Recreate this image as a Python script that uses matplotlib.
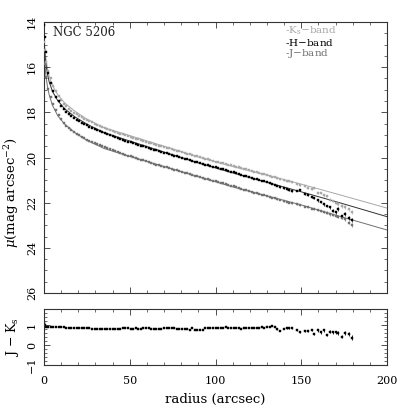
import numpy as np
import matplotlib
matplotlib.use("Agg")
import matplotlib.pyplot as plt
from matplotlib.ticker import MultipleLocator

plt.rcParams['font.family'] = ['DejaVu Serif']
plt.rcParams['mathtext.fontset'] = 'dejavuserif'

# ---------------- data ----------------
radius = [
    0.0, 0.5, 1.3, 2.6, 4.0, 5.5, 7.0, 8.5, 10.0, 11.5,
    13.0, 14.5, 16.0, 17.5, 19.0, 20.5, 22.0, 23.5, 25.0, 26.5,
    28.0, 29.5, 31.0, 32.5, 34.0, 35.5, 37.0, 38.5, 40.0, 41.5,
    43.0, 44.5, 46.0, 47.5, 49.0, 50.5, 52.0, 53.5, 55.0, 56.5,
    58.0, 59.5, 61.0, 62.5, 64.0, 65.5, 67.0, 68.5, 70.0, 71.5,
    73.0, 74.5, 76.0, 77.5, 79.0, 80.5, 82.0, 83.5, 85.0, 86.5,
    88.0, 89.5, 91.0, 92.5, 94.0, 95.5, 97.0, 98.5, 100.0, 101.5,
    103.0, 104.5, 106.0, 107.5, 109.0, 110.5, 112.0, 113.5, 115.0, 116.5,
    118.0, 119.5, 121.0, 122.5, 124.0, 125.5, 127.0, 128.5, 130.0, 131.5,
    133.0, 134.5,
    136.0, 137.8, 139.8, 141.5, 143.0, 144.6, 147.5, 149.5, 152.0, 154.0,
    156.0, 157.2, 159.8, 161.7, 163.0, 165.0, 167.0, 168.3, 170.0, 171.5,
    173.8, 175.7, 177.7, 179.6,
]

mu_H = [
    14.15, 14.65, 15.35, 16.25, 16.72, 17.06, 17.30, 17.52, 17.70, 17.86,
    17.98, 18.08, 18.17, 18.25, 18.32, 18.39, 18.46, 18.52, 18.58, 18.63,
    18.69, 18.74, 18.79, 18.84, 18.89, 18.93, 18.98, 19.02, 19.06, 19.10,
    19.14, 19.18, 19.22, 19.26, 19.30, 19.33, 19.37, 19.41, 19.44, 19.48,
    19.51, 19.55, 19.58, 19.62, 19.65, 19.69, 19.72, 19.75, 19.79, 19.82,
    19.85, 19.88, 19.92, 19.95, 19.98, 20.01, 20.05, 20.08, 20.11, 20.14,
    20.18, 20.21, 20.24, 20.27, 20.31, 20.34, 20.37, 20.40, 20.44, 20.47,
    20.50, 20.53, 20.57, 20.60, 20.63, 20.66, 20.70, 20.73, 20.76, 20.80,
    20.83, 20.86, 20.89, 20.93, 20.96, 21.00, 21.03, 21.06, 21.10, 21.14,
    21.18, 21.21,
    21.26, 21.31, 21.36, 21.40, 21.46, 21.50, 21.47, 21.44, 21.60, 21.68,
    21.74, 21.80, 21.90, 21.96, 22.08, 22.14, 22.20, 22.36, 22.42, 22.28,
    22.60, 22.50, 22.68, 22.76,
]

mu_Ks = [
    14.90, 15.25, 15.75, 16.15, 16.48, 16.82, 17.05, 17.27, 17.46, 17.62,
    17.74, 17.84, 17.93, 18.01, 18.08, 18.15, 18.22, 18.28, 18.34, 18.39,
    18.45, 18.50, 18.55, 18.60, 18.65, 18.69, 18.74, 18.78, 18.82, 18.86,
    18.90, 18.94, 18.98, 19.02, 19.06, 19.09, 19.13, 19.17, 19.20, 19.24,
    19.27, 19.31, 19.34, 19.38, 19.41, 19.45, 19.48, 19.51, 19.55, 19.58,
    19.60, 19.63, 19.67, 19.70, 19.73, 19.76, 19.80, 19.83, 19.86, 19.89,
    19.92, 19.95, 19.98, 20.01, 20.05, 20.08, 20.11, 20.14, 20.18, 20.21,
    20.23, 20.26, 20.30, 20.32, 20.35, 20.38, 20.42, 20.44, 20.47, 20.50,
    20.53, 20.56, 20.59, 20.62, 20.65, 20.69, 20.72, 20.75, 20.79, 20.82,
    20.85, 20.88,
    20.92, 20.96, 21.00, 21.04, 21.06, 21.10, 21.18, 21.22, 21.28, 21.34,
    21.38, 21.36, 21.56, 21.58, 21.68, 21.72, 21.86, 21.92, 22.02, 22.06,
    22.15, 22.20, 22.30, 22.42,
]

mu_J = [
    15.30, 15.85, 16.45, 16.95, 17.30, 17.62, 17.88, 18.10, 18.30, 18.46,
    18.60, 18.71, 18.80, 18.88, 18.95, 19.02, 19.09, 19.15, 19.21, 19.26,
    19.31, 19.36, 19.41, 19.46, 19.51, 19.55, 19.60, 19.64, 19.68, 19.72,
    19.76, 19.80, 19.84, 19.88, 19.92, 19.95, 19.99, 20.03, 20.06, 20.10,
    20.13, 20.17, 20.20, 20.24, 20.27, 20.31, 20.34, 20.37, 20.41, 20.44,
    20.47, 20.50, 20.54, 20.57, 20.60, 20.63, 20.67, 20.70, 20.73, 20.76,
    20.80, 20.83, 20.86, 20.89, 20.93, 20.96, 20.99, 21.02, 21.06, 21.09,
    21.12, 21.15, 21.19, 21.22, 21.25, 21.28, 21.32, 21.35, 21.38, 21.42,
    21.45, 21.48, 21.51, 21.55, 21.58, 21.62, 21.65, 21.68, 21.72, 21.75,
    21.78, 21.81,
    21.84, 21.88, 21.93, 21.96, 22.00, 22.03, 22.08, 22.12, 22.17, 22.21,
    22.26, 22.28, 22.33, 22.37, 22.40, 22.44, 22.52, 22.55, 22.58, 22.62,
    22.66, 22.74, 22.88, 23.00,
]

color_JK = [
    1.12, 1.02, 0.88, 0.88, 0.90, 0.90, 0.90, 0.90, 0.89, 0.89,
    0.86, 0.85, 0.85, 0.85, 0.86, 0.85, 0.85, 0.85, 0.84, 0.84,
    0.81, 0.80, 0.81, 0.80, 0.80, 0.80, 0.80, 0.80, 0.80, 0.80,
    0.80, 0.81, 0.84, 0.87, 0.83, 0.82, 0.82, 0.83, 0.82, 0.82,
    0.84, 0.83, 0.83, 0.82, 0.80, 0.80, 0.81, 0.80, 0.86, 0.87,
    0.86, 0.87, 0.84, 0.82, 0.82, 0.81, 0.82, 0.80, 0.77, 0.83,
    0.74, 0.73, 0.73, 0.74, 0.86, 0.87, 0.85, 0.83, 0.83, 0.84,
    0.83, 0.84, 0.90, 0.87, 0.87, 0.86, 0.87, 0.84, 0.80, 0.86,
    0.87, 0.87, 0.87, 0.86, 0.87, 0.87, 0.88, 0.87, 0.90, 0.92,
    0.93, 0.91,
    0.80, 0.72, 0.81, 0.83, 0.83, 0.84, 0.73, 0.63, 0.70, 0.71,
    0.75, 0.53, 0.73, 0.63, 0.73, 0.50, 0.67, 0.64, 0.63, 0.60,
    0.42, 0.60, 0.57, 0.37,
]

# error bars of the outer (sparse) points
err_outer_mu = [
    0.02, 0.02, 0.02, 0.03, 0.03, 0.03, 0.03, 0.03, 0.04, 0.04,
    0.04, 0.04, 0.05, 0.05, 0.05, 0.05, 0.06, 0.06, 0.06, 0.07,
    0.07, 0.08, 0.08, 0.09,
]
err_outer_col = [
    0.03, 0.03, 0.03, 0.03, 0.04, 0.04, 0.04, 0.04, 0.05, 0.05,
    0.05, 0.05, 0.06, 0.06, 0.06, 0.06, 0.07, 0.07, 0.07, 0.08,
    0.08, 0.09, 0.10, 0.11,
]

# fitted profiles
r_fit = [0, 0.5, 1, 2, 3, 5, 8, 12, 18, 25, 35, 50, 70, 90, 110, 130, 150, 170, 200]
fit_Ks = [14.70, 15.15, 15.55, 16.05, 16.40, 16.82, 17.22, 17.58, 17.95, 18.30,
          18.68, 19.03, 19.50, 19.98, 20.40, 20.78, 21.18, 21.60, 22.24]
fit_H = [14.90, 15.40, 15.80, 16.30, 16.65, 17.08, 17.48, 17.84, 18.20, 18.52,
         18.90, 19.27, 19.76, 20.24, 20.68, 21.10, 21.52, 21.95, 22.62]
fit_J = [15.20, 15.80, 16.30, 16.85, 17.22, 17.70, 18.15, 18.52, 18.90, 19.24,
         19.60, 19.95, 20.40, 20.85, 21.30, 21.70, 22.10, 22.55, 23.21]

galaxy = "NGC 5206"
band_labels = [r"K$_\mathrm{s}$$-$band", r"H$-$band", r"J$-$band"]

# ---------------- styling ----------------
c_Ks = "#a8a8a8"
c_H = "#000000"
c_J = "#707070"
fig = plt.figure(figsize=(4.09, 4.09), dpi=100)
W = H_ = 409.0

def ax_rect(l, t, r, b):
    return [l / W, 1 - b / H_, (r - l) / W, (b - t) / H_]

ax = fig.add_axes(ax_rect(44, 22, 387, 293))
ax2 = fig.add_axes(ax_rect(44, 309, 387, 365))

n_dense = 92
R = np.array(radius)

for mu, col in [(mu_J, c_J), (mu_Ks, c_Ks), (mu_H, c_H)]:
    mu = np.array(mu)
    ax.plot(R, mu, ls="none", marker="s", ms=2.1, mfc=col, mec=col, mew=0.3, zorder=3)
    ax.errorbar(R[n_dense:], mu[n_dense:], yerr=err_outer_mu, fmt="none",
                ecolor=col, elinewidth=0.5, capsize=0, zorder=2)

ax.plot(r_fit, fit_Ks, color=c_Ks, lw=0.7, zorder=1)
ax.plot(r_fit, fit_H, color="#303030", lw=0.7, zorder=1)
ax.plot(r_fit, fit_J, color=c_J, lw=0.7, zorder=1)

ax.set_xlim(0, 200)
ax.set_ylim(26, 14)
ax.set_xticklabels([])

# colour panel
ax2.plot(R, color_JK, ls="none", marker="s", ms=2.1, mfc="k", mec="k", mew=0.3)
ax2.errorbar(R[n_dense:], np.array(color_JK)[n_dense:], yerr=err_outer_col,
             fmt="none", ecolor="k", elinewidth=0.6, capsize=0)
ax2.set_xlim(0, 200)
ax2.set_ylim(-1.0, 1.8)

for a in (ax, ax2):
    a.xaxis.set_major_locator(MultipleLocator(50))
    a.xaxis.set_minor_locator(MultipleLocator(10))
    a.tick_params(which="both", direction="in", top=True, right=True,
                  labelsize=8, color="#333333")
    a.tick_params(which="major", length=4.5, width=0.6)
    a.tick_params(which="minor", length=2.2, width=0.5)
    a.tick_params(axis="y", labelrotation=90, pad=5)
    for s in a.spines.values():
        s.set_linewidth(0.8)
        s.set_color("#333333")

ax.yaxis.set_major_locator(MultipleLocator(2))
ax.yaxis.set_minor_locator(MultipleLocator(0.5))
ax2.yaxis.set_major_locator(MultipleLocator(1))
ax2.yaxis.set_minor_locator(MultipleLocator(0.2))
for lab in ax.get_yticklabels() + ax2.get_yticklabels():
    lab.set_va("center")
ax2.tick_params(axis="x", pad=8)

ax.set_ylabel(r"$\mu$(mag arcsec$^{-2}$)", fontsize=9.5)
ax.yaxis.set_label_coords(-0.068, 0.37)
ax2.set_ylabel(r"J $-$ K$_\mathrm{s}$", fontsize=9)
ax2.yaxis.set_label_coords(-0.068, 0.5)
ax2.set_xlabel("radius (arcsec)", fontsize=9.5, labelpad=5)

ax.text(0.027, 0.962, galaxy, transform=ax.transAxes, fontsize=8.5,
        ha="left", va="center", color="#222222")
for i, (lab, col) in enumerate(zip(band_labels, [c_Ks, c_H, c_J])):
    ax.text(0.703, 0.967 - i * 0.041, "-" + lab, transform=ax.transAxes,
            fontsize=7.5, ha="left", va="center", color=col)

fig.savefig("out.png", dpi=100)
